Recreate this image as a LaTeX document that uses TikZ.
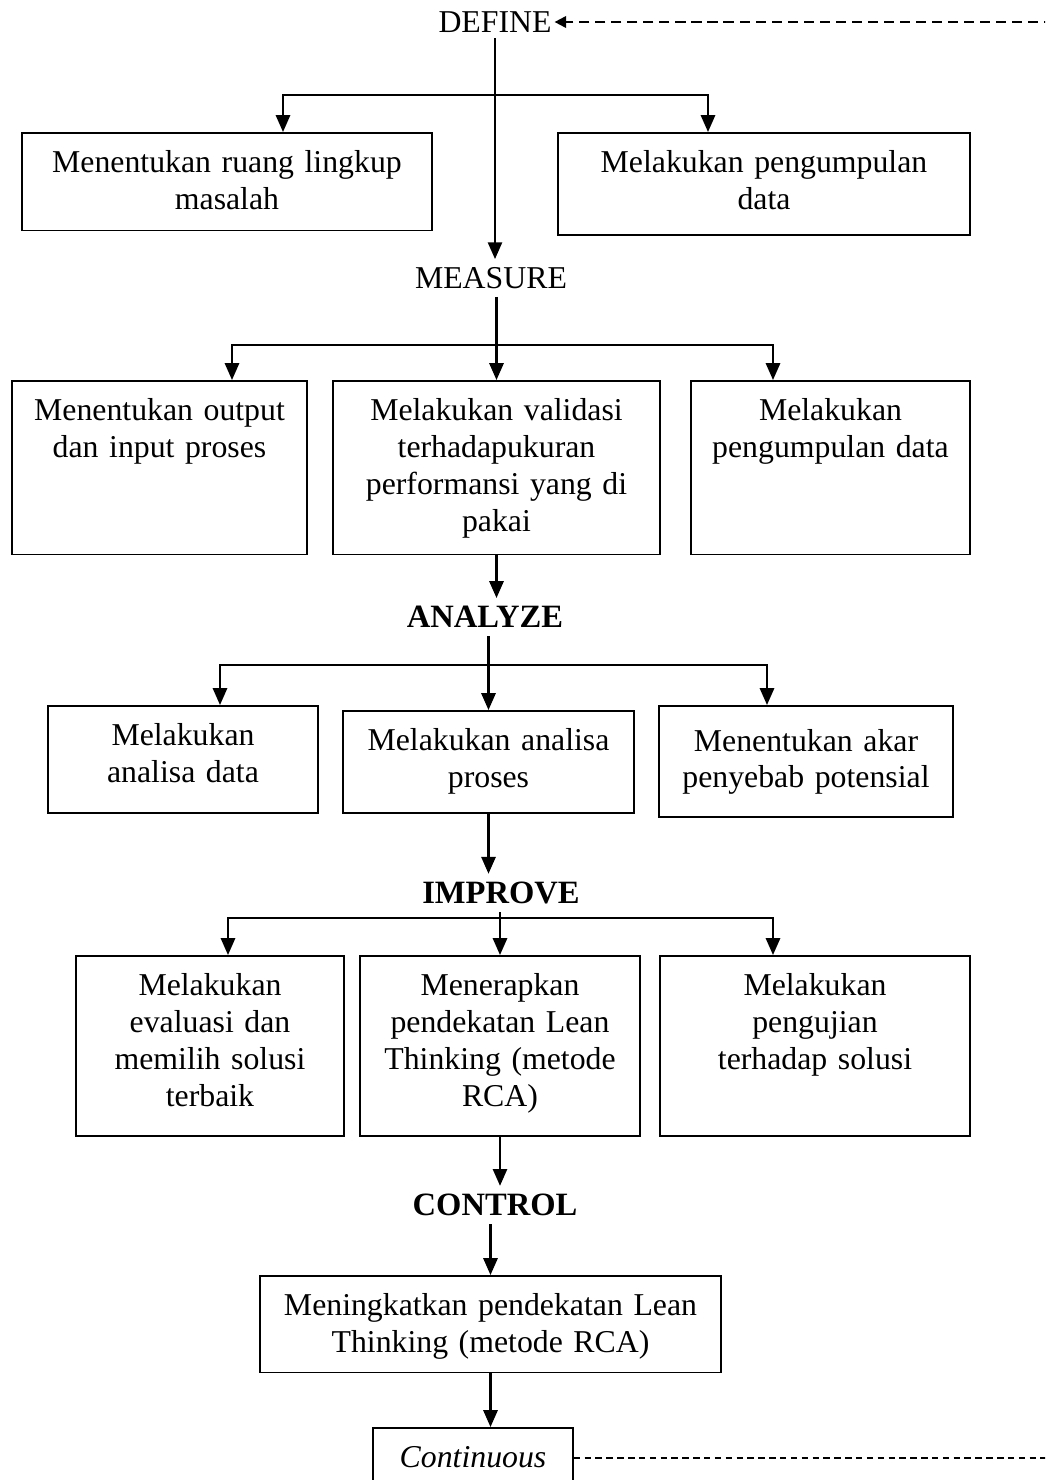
\documentclass[tikz,border=0pt]{standalone}
\usepackage{fontspec}
\setmainfont{Liberation Serif}[WordSpace=0.75]
\usetikzlibrary{arrows.meta}
\begin{document}
\begin{tikzpicture}[x=0.387pt, y=-0.387pt,
  font=\fontsize{12.3}{14.3}\selectfont,
  kotak/.style={draw, line width=0.6pt, anchor=north, align=center,
    inner xsep=4pt, inner ysep=4.5pt, text height=11pt, text width=#1},
  tahap/.style={inner xsep=1pt, inner ysep=3pt},
  tahapb/.style={tahap, font=\fontsize{12.6}{15}\selectfont\bfseries},
  panah/.style={line width=0.8pt, -{Triangle[length=6.5pt,width=5.5pt]}},
  cabang/.style={line width=0.8pt,
    {Triangle[length=6.5pt,width=5.5pt]}-{Triangle[length=6.5pt,width=5.5pt]}}]
  \useasboundingbox (0,0) rectangle (1045,1480);
  \clip (0,0) rectangle (1045,1480);

  % tahap define
  \node[tahap, inner xsep=1pt, inner ysep=2pt] (define) at (495,22) {DEFINE};
  \node[kotak=150.7pt, text depth=17.9pt] (ruang) at (227,132) {Menentukan ruang lingkup\\masalah};
  \node[kotak=151.4pt, text depth=19.5pt] (kumpulA) at (764,132) {Melakukan pengumpulan\\data};

  % tahap measure
  \node[tahap] (measure) at (491,278) {MEASURE};
  \node[kotak=106.2pt, text depth=47.3pt] (output) at (159.5,380) {Menentukan output\\dan input proses};
  \node[kotak=118.5pt, text depth=47.3pt] (validasi) at (496.5,380) {Melakukan validasi\\terhadapukuran\\performansi yang di\\pakai};
  \node[kotak=100pt, text depth=47.3pt] (kumpulB) at (830.5,380) {Melakukan\\pengumpulan data};

  % tahap analyze
  \node[tahapb] (analyze) at (485,617) {ANALYZE};
  \node[kotak=96.5pt, text depth=21.4pt] (adata) at (183,705) {Melakukan\\analisa data};
  \node[kotak=104.6pt, text depth=19.5pt] (aproses) at (488.5,710) {Melakukan analisa\\proses};
  \node[kotak=105.8pt, text height=13pt, text depth=21pt] (akar) at (806,705) {Menentukan akar\\penyebab potensial};

  % tahap improve
  \node[tahapb] (improve) at (501,893) {IMPROVE};
  \node[kotak=95.7pt, text depth=49.7pt] (evaluasi) at (210,955) {Melakukan\\evaluasi dan\\memilih solusi\\terbaik};
  \node[kotak=100.4pt, text depth=49.7pt] (lean) at (500,955) {Menerapkan\\pendekatan Lean\\Thinking (metode\\RCA)};
  \node[kotak=112pt, text depth=49.7pt] (uji) at (815,955) {Melakukan\\pengujian\\terhadap solusi};

  % tahap control
  \node[tahapb] (control) at (495,1205) {CONTROL};
  \node[kotak=170.4pt, text depth=17.5pt] (tingkat) at (490.5,1275) {Meningkatkan pendekatan Lean\\Thinking (metode RCA)};
  \node[kotak=69.4pt, text depth=60pt] (ci) at (473,1427) {\textit{Continuous}};

  % cabang
  \coordinate (barAa) at (283,95);  \coordinate (barAb) at (708,95);
  \coordinate (barBa) at (232,345); \coordinate (barBb) at (773,345);
  \coordinate (barCa) at (220,665); \coordinate (barCb) at (767,665);
  \coordinate (barDa) at (228,918); \coordinate (barDb) at (773,918);
  \coordinate (balik) at (1070,22);

  \draw[panah] (define.south) -- (define.south |- measure.north);
  \draw[cabang] (barAa |- ruang.north) -- (barAa) -- (barAb) -- (barAb |- kumpulA.north);

  \draw[panah] (validasi.north |- measure.south) -- (validasi.north);
  \draw[cabang] (barBa |- output.north) -- (barBa) -- (barBb) -- (barBb |- kumpulB.north);
  \draw[panah] (validasi.south) -- (validasi.south |- analyze.north);

  \draw[panah] (aproses.north |- analyze.south) -- (aproses.north);
  \draw[cabang] (barCa |- adata.north) -- (barCa) -- (barCb) -- (barCb |- akar.north);
  \draw[panah] (aproses.south) -- (aproses.south |- improve.north);

  \draw[panah] (lean.north |- improve.south) -- (lean.north);
  \draw[cabang] (barDa |- evaluasi.north) -- (barDa) -- (barDb) -- (barDb |- uji.north);
  \draw[panah] (lean.south) -- (lean.south |- control.north);

  \draw[panah] (tingkat.north |- control.south) -- (tingkat.north);
  \draw[panah] (tingkat.south) -- (tingkat.south |- ci.north);

  % umpan balik
  \draw[line width=0.45pt, dash pattern=on 2.5pt off 1.7pt]
    ([yshift=-12pt]ci.north east) -- ([yshift=-12pt]ci.north east -| balik) -- (balik);
  \draw[line width=0.8pt, dash pattern=on 3.9pt off 2.3pt, -{Triangle[length=4.5pt,width=4.5pt]}]
    (balik) -- (define.east);
\end{tikzpicture}
\end{document}
